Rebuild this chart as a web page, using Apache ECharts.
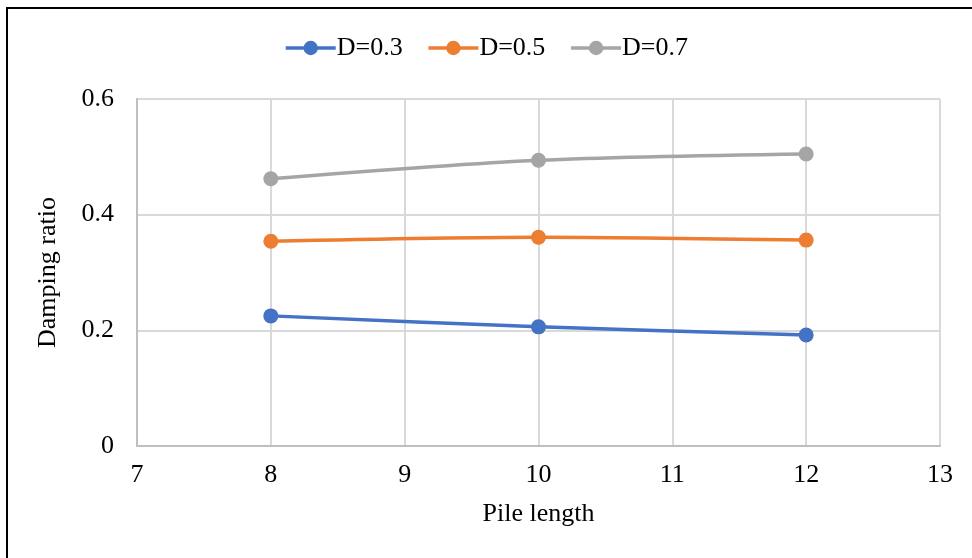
<!DOCTYPE html>
<html><head><meta charset="utf-8">
<script src="https://cdn.jsdelivr.net/npm/echarts@6/dist/echarts.min.js"></script>
<style>
html,body{margin:0;padding:0;background:#fff;}
#frame{position:absolute;left:6px;top:7px;width:980px;height:570px;border:2px solid #000;box-sizing:border-box;}
#c{position:absolute;left:0;top:0;width:972px;height:558px;}
</style></head><body>
<div id="frame"></div>
<div id="c"></div>
<script>
const pileLength = [8, 10, 12];
const d03 = [0.225, 0.206, 0.192];
const d05 = [0.354, 0.361, 0.356];
const d07 = [0.462, 0.494, 0.505];
const seriesNames = ['D=0.3', 'D=0.5', 'D=0.7'];
const colors = ['#4472C4', '#ED7D31', '#A5A5A5'];

const font = '"Liberation Serif", "Times New Roman", serif';
const chart = echarts.init(document.getElementById('c'), null, {renderer: 'canvas'});
const mk = (name, vals, color) => ({
  name, type: 'line', smooth: 0.3,
  data: pileLength.map((x, i) => [x, vals[i]]),
  symbol: 'circle', symbolSize: 15,
  lineStyle: {width: 3.5, color},
  itemStyle: {color},
  emphasis: {disabled: true}
});
chart.setOption({
  animation: false,
  backgroundColor: 'transparent',
  legend: {
    top: 30, left: 'center', itemWidth: 50, itemHeight: 18, itemGap: 24,
    lineStyle: {width: 3.5},
    textStyle: {fontFamily: font, fontSize: 26, color: '#000', padding: [0, 0, 0, -4]},
    data: seriesNames
  },
  grid: {left: 137, right: 32, top: 99, bottom: 112},
  xAxis: {
    type: 'value', min: 7, max: 13, interval: 1,
    name: 'Pile length', nameLocation: 'middle', nameGap: 55,
    nameTextStyle: {fontFamily: font, fontSize: 26, color: '#000'},
    axisLine: {show: true, lineStyle: {color: '#bfbfbf', width: 2}},
    axisTick: {show: false},
    axisLabel: {fontFamily: font, fontSize: 26, color: '#000', margin: 16},
    splitLine: {show: true, lineStyle: {color: '#d9d9d9', width: 2}}
  },
  yAxis: {
    type: 'value', min: 0, max: 0.6, interval: 0.2,
    name: 'Damping ratio', nameLocation: 'middle', nameGap: 76,
    nameTextStyle: {fontFamily: font, fontSize: 26, color: '#000'},
    axisLine: {show: true, lineStyle: {color: '#bfbfbf', width: 2}},
    axisTick: {show: false},
    axisLabel: {fontFamily: font, fontSize: 26, color: '#000', margin: 23},
    splitLine: {show: true, lineStyle: {color: '#d9d9d9', width: 2}}
  },
  series: [mk(seriesNames[0], d03, colors[0]), mk(seriesNames[1], d05, colors[1]), mk(seriesNames[2], d07, colors[2])]
});
</script>
</body></html>
